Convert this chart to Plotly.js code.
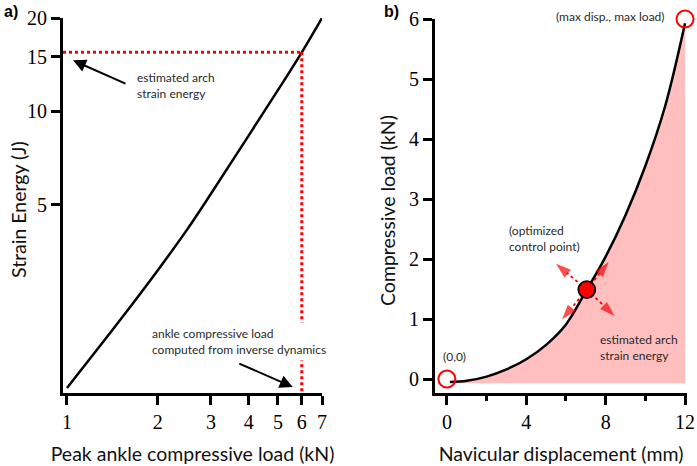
<!DOCTYPE html>
<html>
<head>
<meta charset="utf-8">
<script src="https://cdn.plot.ly/plotly-3.0.1.min.js"></script>
<style>html,body{margin:0;padding:0;background:#fff;}#chart{width:697px;height:466px;}</style>
</head>
<body>
<div id="chart"></div>
<script>
// ---- Panel a) data ----
const peakLoad = [1, 1.5, 2, 2.5, 3, 4, 5, 6, 7];                 // kN
const strainEnergy = [1.28, 2.12, 3.07, 4.15, 5.42, 8.35, 11.7, 15.5, 20]; // J
const estLoad = 6;
const estEnergy = 15.5;
const aXTicks = [1, 2, 3, 4, 5, 6, 7];
const aYTicks = [5, 10, 15, 20];

// ---- Panel b) data ----
const displacement = [0.15, 1, 2, 3, 4, 5, 6, 7, 8, 9, 10, 11, 12];          // mm
const compLoad = [-0.05, -0.03, 0.04, 0.16, 0.33, 0.57, 0.91, 1.46, 2.04, 2.73, 3.55, 4.55, 5.93]; // kN
const fillBase = -0.07;
const endX = [0, 12];
const endY = [0, 6];
const ctrlX = 7.05;
const ctrlY = 1.49;
const arrowTipX = [5.5, 8.15, 5.8, 8.45];
const arrowTipY = [1.92, 1.95, 0.99, 1.05];
const bXTicks = [0, 4, 8, 12];
const bYTicks = [0, 1, 2, 3, 4, 5, 6];

const W = 697, H = 466;
const px = x => x / W;
const py = y => 1 - y / H;

const aXRange = [-0.0132, Math.log10(7)];
const aYRange = [0.091, Math.log10(20)];

const RED = '#ff0000';
const traces = [];

// panel a
traces.push({x: peakLoad, y: strainEnergy, xaxis: 'x', yaxis: 'y', mode: 'lines',
  line: {color: '#000', width: 2.5, shape: 'spline'}, hoverinfo: 'skip'});
traces.push({x: [Math.pow(10, aXRange[0]), estLoad], y: [estEnergy, estEnergy], xaxis: 'x', yaxis: 'y',
  mode: 'lines', line: {color: RED, width: 3, dash: 'dot'}, hoverinfo: 'skip'});
traces.push({x: [estLoad, estLoad], y: [estEnergy, Math.pow(10, aYRange[0])], xaxis: 'x', yaxis: 'y',
  mode: 'lines', line: {color: RED, width: 3, dash: 'dot'}, hoverinfo: 'skip'});

// panel b fill baseline + curve
traces.push({x: displacement, y: displacement.map(() => fillBase), xaxis: 'x2', yaxis: 'y2',
  mode: 'lines', line: {width: 0, color: 'rgba(0,0,0,0)'}, hoverinfo: 'skip'});
traces.push({x: displacement, y: compLoad, xaxis: 'x2', yaxis: 'y2', mode: 'lines',
  fill: 'tonexty', fillcolor: '#ffbfbf',
  line: {color: '#000', width: 2.5, shape: 'spline'}, hoverinfo: 'skip'});
// dotted arrows from the control point
for (let i = 0; i < arrowTipX.length; i++) {
  traces.push({x: [ctrlX, arrowTipX[i]], y: [ctrlY, arrowTipY[i]], xaxis: 'x2', yaxis: 'y2',
    mode: 'lines+markers', cliponaxis: false,
    line: {color: RED, width: 1.8, dash: 'dot'},
    marker: {symbol: ['circle', 'arrow'], size: [0, 16], color: RED, angleref: 'previous', line: {width: 0}},
    hoverinfo: 'skip'});
}
// end-point circles
traces.push({x: endX, y: endY, xaxis: 'x2', yaxis: 'y2', mode: 'markers', cliponaxis: false,
  marker: {symbol: 'circle-open', size: 17, color: RED, line: {width: 2, color: RED}}, hoverinfo: 'skip'});
// control point
traces.push({x: [ctrlX], y: [ctrlY], xaxis: 'x2', yaxis: 'y2', mode: 'markers', cliponaxis: false,
  marker: {symbol: 'circle', size: 17, color: RED, line: {width: 1.8, color: '#000'}}, hoverinfo: 'skip'});

const tickFont = {family: 'Liberation Serif, DejaVu Serif, serif', size: 20, color: '#000'};
const titleFont = {family: 'Lato', size: 19.5, color: '#111'};
const noteFont = {family: 'Lato', size: 12, color: '#2a2a2a'};

const axisBase = {
  showline: true, linewidth: 3, linecolor: '#000', ticks: 'outside', ticklen: 9, tickwidth: 3,
  tickcolor: '#000', showgrid: false, zeroline: false, tickfont: tickFont, fixedrange: true
};

const layout = {
  width: W, height: H, margin: {l: 0, r: 0, t: 0, b: 0},
  paper_bgcolor: '#fff', plot_bgcolor: '#fff', showlegend: false,
  xaxis: Object.assign({}, axisBase, {
    domain: [px(63), px(322)], type: 'log', range: aXRange, anchor: 'y',
    tickvals: aXTicks, ticktext: aXTicks.map(String),
    title: {text: 'Peak ankle compressive load (kN)', font: titleFont, standoff: 16}
  }),
  yaxis: Object.assign({}, axisBase, {
    domain: [py(393), py(18)], type: 'log', range: aYRange, anchor: 'x',
    tickvals: aYTicks, ticktext: aYTicks.map(String)
  }),
  xaxis2: Object.assign({}, axisBase, {
    domain: [px(435), px(687)], range: [-0.6, 12.1], anchor: 'y2',
    tickvals: bXTicks, ticktext: bXTicks.map(String),
    minor: {tickvals: [2, 6, 10], ticks: 'outside', ticklen: 5, tickwidth: 3, tickcolor: '#000'},
    title: {text: 'Navicular displacement (mm)', font: titleFont, standoff: 16}
  }),
  yaxis2: Object.assign({}, axisBase, {
    domain: [py(393), py(19)], range: [-0.233, 6.0], anchor: 'x2',
    tickvals: bYTicks, ticktext: bYTicks.map(String)
  }),
  annotations: [
    {text: 'Strain Energy (J)', xref: 'paper', yref: 'paper', x: px(18), y: py(210), textangle: -90,
      xanchor: 'center', yanchor: 'middle', showarrow: false, font: titleFont},
    {text: 'Compressive load (kN)', xref: 'paper', yref: 'paper', x: px(387), y: py(210), textangle: -90,
      xanchor: 'center', yanchor: 'middle', showarrow: false, font: titleFont},
    {text: '<b>a)</b>', xref: 'paper', yref: 'paper', x: px(2), y: py(12), xanchor: 'left', yanchor: 'middle',
      showarrow: false, font: {family: 'Liberation Sans', size: 16, color: '#000'}},
    {text: '<b>b)</b>', xref: 'paper', yref: 'paper', x: px(382), y: py(12), xanchor: 'left', yanchor: 'middle',
      showarrow: false, font: {family: 'Liberation Sans', size: 16, color: '#000'}},
    {text: 'estimated arch<br>strain energy', xref: 'paper', yref: 'paper', x: px(135), y: py(85),
      xanchor: 'left', yanchor: 'middle', align: 'left', showarrow: false, font: noteFont},
    {text: '', xref: 'x', yref: 'y', x: Math.log10(1.047), y: Math.log10(14.6), ax: 54, ay: 24,
      showarrow: true, arrowhead: 2, arrowsize: 1.3, arrowwidth: 2, arrowcolor: '#000'},
    {text: 'ankle compressive load<br>computed from inverse dynamics', xref: 'paper', yref: 'paper',
      x: px(148), y: py(341), xanchor: 'left', yanchor: 'middle', align: 'left', showarrow: false,
      font: noteFont, bgcolor: '#fff', borderpad: 3},
    {text: '', xref: 'x', yref: 'y', x: Math.log10(5.6), y: Math.log10(1.29), ax: -55, ay: -24,
      showarrow: true, arrowhead: 2, arrowsize: 1.3, arrowwidth: 2, arrowcolor: '#000'},
    {text: '(optimized<br>control point)', xref: 'paper', yref: 'paper', x: px(507), y: py(238),
      xanchor: 'left', yanchor: 'middle', align: 'left', showarrow: false, font: noteFont},
    {text: '(0,0)', xref: 'paper', yref: 'paper', x: px(441), y: py(356),
      xanchor: 'left', yanchor: 'middle', align: 'left', showarrow: false, font: noteFont},
    {text: 'estimated arch<br>strain energy', xref: 'paper', yref: 'paper', x: px(598), y: py(347),
      xanchor: 'left', yanchor: 'middle', align: 'left', showarrow: false, font: noteFont},
    {text: '(max disp., max load)', xref: 'paper', yref: 'paper', x: px(554), y: py(16),
      xanchor: 'left', yanchor: 'middle', align: 'left', showarrow: false, font: noteFont}
  ]
};

Plotly.newPlot('chart', traces, layout, {displayModeBar: false, staticPlot: true});
</script>
</body>
</html>
